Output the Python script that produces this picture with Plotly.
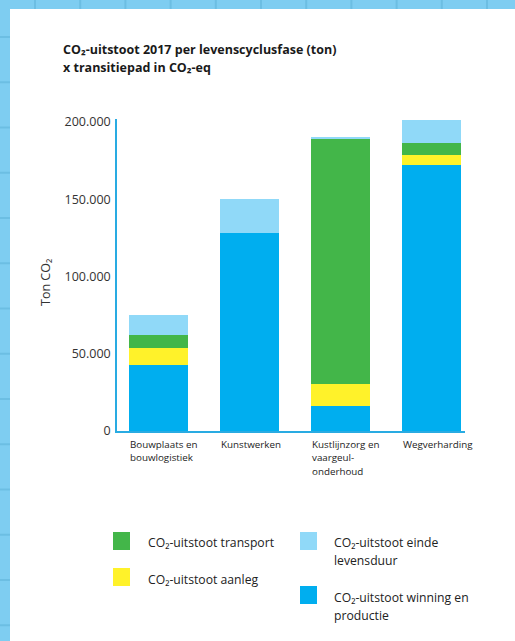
import plotly.graph_objects as go

categories = ["Bouwplaats en<br>bouwlogistiek", "Kunstwerken", "Kustlijnzorg en<br>vaargeul-<br>onderhoud", "Wegverharding"]
winning = [43000, 128500, 16000, 172500]
aanleg = [10500, 0, 14300, 6000]
transport = [8500, 0, 158500, 8000]
einde = [13000, 22000, 1300, 15000]

series = [
    (["CO₂-uitstoot winning en", "productie"], winning, "#00AEEF"),
    (["CO₂-uitstoot aanleg"], aanleg, "#FFF22A"),
    (["CO₂-uitstoot transport"], transport, "#43B649"),
    (["CO₂-uitstoot einde", "levensduur"], einde, "#90D9F8"),
]

W, H = 515, 641
L, R, T, B = 117, 50, 119, 210
PW, PH = W - L - R, H - T - B


def px(x):
    return (x - L) / PW


def py(y):
    return (H - B - y) / PH


FONT = "Open Sans"
fig = go.Figure()
xs = list(range(len(categories)))
for name, vals, col in series:
    fig.add_trace(go.Bar(x=xs, y=vals, name=" ".join(name), marker=dict(color=col, line=dict(width=0)),
                         width=0.65, showlegend=False))

shapes = []
annotations = []
strip = "#7ECDF1"
gridc = "#6CBEE3"
# decorative background strip (left and top)
shapes.append(dict(type="rect", xref="paper", yref="paper", x0=px(0), x1=px(10), y0=py(H), y1=py(0),
                   fillcolor=strip, line=dict(width=0), layer="below"))
shapes.append(dict(type="rect", xref="paper", yref="paper", x0=px(0), x1=px(W), y0=py(9), y1=py(0),
                   fillcolor=strip, line=dict(width=0), layer="below"))
k = 0
while 37 + 45.25 * k < H:
    yy = 37 + 45.25 * k
    shapes.append(dict(type="line", xref="paper", yref="paper", x0=px(0), x1=px(10), y0=py(yy), y1=py(yy),
                       line=dict(color=gridc, width=2), layer="below"))
    k += 1
k = 0
while 35 + 45.2 * k < W:
    xx = 35 + 45.2 * k
    shapes.append(dict(type="line", xref="paper", yref="paper", x0=px(xx), x1=px(xx), y0=py(0), y1=py(9),
                       line=dict(color=gridc, width=2), layer="below"))
    k += 1

# title
for j, line in enumerate(["CO₂-uitstoot 2017 per levenscyclusfase (ton)", "x transitiepad in CO₂-eq"]):
    annotations.append(dict(xref="paper", yref="paper", x=px(61), y=py(50 + 18 * j), xanchor="left",
                            yanchor="middle", align="left", showarrow=False, text="<b>" + line + "</b>",
                            font=dict(family=FONT, size=12.5, color="#1a1a1a")))
# y title
annotations.append(dict(xref="paper", yref="paper", x=px(45), y=py(283), xanchor="center", yanchor="middle",
                        showarrow=False, textangle=-90, text="Ton CO₂",
                        font=dict(family=FONT, size=12.5, color="#333333")))
# category labels
for i, c in enumerate(categories):
    for j, line in enumerate(c.split("<br>")):
        annotations.append(dict(xref="x", yref="paper", x=i - 0.34, y=py(444 + 13.5 * j), xanchor="left",
                                yanchor="middle", align="left", showarrow=False, text=line,
                                font=dict(family=FONT, size=9.8, color="#222222")))

# legend
leg = [
    (series[2], 113, 532, 146, 542),
    (series[1], 113, 568, 146, 579),
    (series[3], 300, 532, 332, 542),
    (series[0], 300, 586, 332, 597),
]
for (name, vals, col), sx, sy, tx, ty in leg:
    shapes.append(dict(type="rect", xref="paper", yref="paper", x0=px(sx), x1=px(sx + 17), y0=py(sy + 18), y1=py(sy),
                       fillcolor=col, line=dict(width=0)))
    for j, line in enumerate(name):
        annotations.append(dict(xref="paper", yref="paper", x=px(tx), y=py(ty + 18.5 * j), xanchor="left",
                                yanchor="middle", align="left", showarrow=False, text=line,
                                font=dict(family=FONT, size=12.2, color="#222222")))

fig.update_layout(
    barmode="stack",
    width=W, height=H,
    margin=dict(l=L, r=R, t=T, b=B, pad=0),
    paper_bgcolor="white", plot_bgcolor="white",
    separators=",.",
    shapes=shapes, annotations=annotations,
    font=dict(family=FONT),
    xaxis=dict(range=[-0.456, 3.368], showticklabels=False, showgrid=False, zeroline=False,
               showline=True, linecolor="#29ABE2", linewidth=1.5, ticks="", fixedrange=True),
    yaxis=dict(range=[0, 202000], tickvals=[0, 50000, 100000, 150000, 200000], tickformat=",d",
               showgrid=False, zeroline=False, showline=True, linecolor="#29ABE2", linewidth=1.5,
               ticks="", ticklabelstandoff=2,
               tickfont=dict(family=FONT, size=12.5, color="#333333")),
)
fig.write_html("out.html")
